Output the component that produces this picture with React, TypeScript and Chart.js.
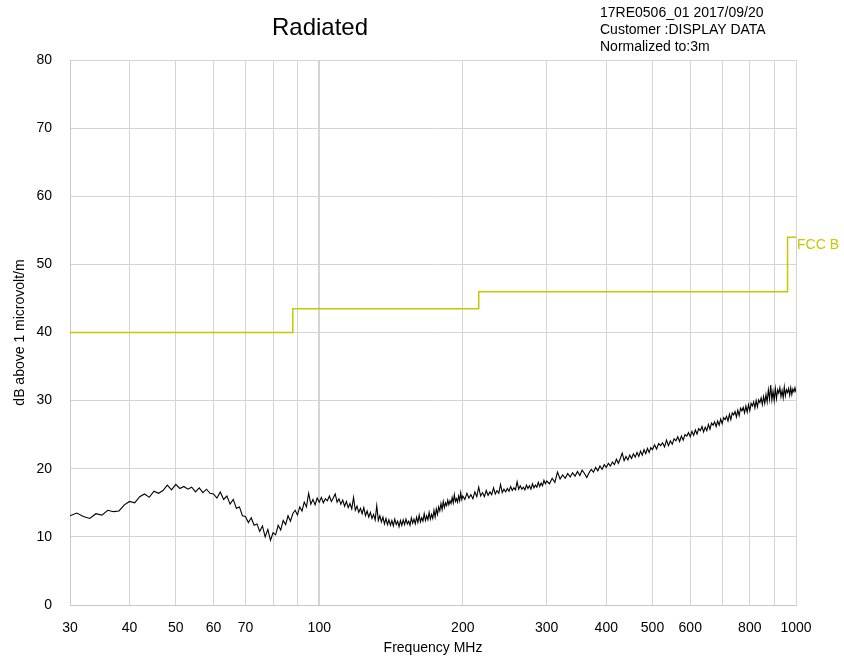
import React, { useEffect, useRef } from 'react';
import { Chart, registerables } from 'chart.js';

Chart.register(...registerables);

// Measured emission trace, split by sweep band (frequency in MHz, level in dBµV/m)
const freqsA = [
  30, 31, 32, 33, 34, 35, 36, 37, 38, 39,
  40, 41, 42, 43, 44, 45, 46, 47, 48, 49,
  50, 51, 52, 53, 54, 55, 56, 57, 58, 59,
  60, 61, 62, 63, 64, 65, 66, 67, 68, 69,
  70, 71, 72, 73, 74, 75, 76, 77, 78, 79,
  80, 81, 82, 83, 84, 85, 86, 87, 88, 89,
  90, 91, 92, 93, 94, 95, 96, 97, 98, 99,
];
const levelsA = [
  13.1, 13.5, 13.0, 12.7, 13.4, 13.2, 13.9, 13.7, 13.8, 14.7,
  15.2, 15.0, 15.9, 16.3, 15.8, 16.7, 16.4, 16.8, 17.6, 16.9,
  17.7, 17.1, 17.4, 17.0, 17.3, 16.6, 17.2, 16.5, 17.0, 16.4,
  16.3, 15.7, 16.6, 15.5, 16.0, 14.8, 15.5, 14.2, 14.4, 13.1,
  13.0, 12.1, 12.8, 11.7, 11.9, 10.8, 11.6, 10.0, 11.1, 9.5,
  10.6, 10.3, 11.7, 11.0, 12.4, 11.8, 13.1, 12.3, 13.4, 13.9,
  13.2, 14.4, 13.8, 15.1, 14.4, 16.4, 14.8, 15.5, 14.7, 15.7,
];

const freqsB = [
  100, 101, 102, 103, 104, 105, 106, 107, 108, 109,
  110, 111, 112, 113, 114, 115, 116, 117, 118, 119,
  120, 121, 122, 123, 124, 125, 126, 127, 128, 129,
  130, 131, 132, 133, 134, 135, 136, 137, 138, 139,
  140, 141, 142, 143, 144, 145, 146, 147, 148, 149,
  150, 151, 152, 153, 154, 155, 156, 157, 158, 159,
  160, 161, 162, 163, 164, 165, 166, 167, 168, 169,
  170, 171, 172, 173, 174, 175, 176, 177, 178, 179,
  180, 181, 182, 183, 184, 185, 186, 187, 188, 189,
  190, 191, 192, 193, 194, 195, 196, 197, 198, 199,
];
const levelsB = [
  15.1, 15.8, 15.0, 15.6, 15.3, 16.0, 15.2, 15.7, 16.3, 15.1,
  15.6, 14.8, 15.4, 14.5, 15.2, 14.3, 14.9, 14.1, 15.8, 13.9,
  14.5, 13.6, 14.2, 13.4, 14.3, 13.1, 13.8, 12.9, 13.6, 12.7,
  13.3, 12.5, 14.6, 12.4, 13.1, 12.2, 12.9, 11.9, 12.7, 11.8,
  12.5, 11.7, 12.4, 11.6, 12.6, 11.8, 12.3, 11.5, 12.4, 11.7,
  12.5, 11.8, 12.6, 11.9, 12.3, 11.7, 12.8, 12.0, 12.6, 11.9,
  12.9, 12.1, 13.2, 12.2, 12.8, 12.3, 13.4, 12.4, 13.1, 12.5,
  13.6, 12.6, 13.3, 12.7, 13.9, 12.9, 14.1, 13.3, 14.4, 13.8,
  14.9, 14.0, 15.2, 14.3, 15.0, 14.6, 15.4, 14.7, 15.3, 14.9,
  15.8, 15.0, 16.2, 15.2, 15.6, 15.1, 16.0, 15.3, 16.5, 15.5,
];

const freqsC = [
  200, 202, 204, 206, 208, 210, 212, 214, 216, 218,
  220, 222, 224, 226, 228, 230, 232, 234, 236, 238,
  240, 242, 244, 246, 248, 250, 252, 254, 256, 258,
  260, 262, 264, 266, 268, 270, 272, 274, 276, 278,
  280, 282, 284, 286, 288, 290, 292, 294, 296, 298,
];
const levelsC = [
  16.0, 15.5, 16.4, 15.7, 16.2, 15.6, 16.6, 15.9, 17.3, 16.0,
  16.5, 15.9, 16.8, 16.1, 16.6, 16.2, 17.2, 16.3, 16.8, 16.4,
  17.7, 16.5, 17.0, 16.6, 17.1, 16.7, 17.4, 16.8, 17.2, 16.9,
  18.1, 17.0, 17.5, 17.0, 17.3, 16.9, 17.6, 17.1, 17.5, 17.0,
  17.8, 17.2, 17.6, 17.3, 18.0, 17.4, 17.9, 17.5, 18.3, 17.8,
];

const freqsD = [
  300, 304, 308, 312, 316, 320, 324, 328, 332, 336,
  340, 344, 348, 352, 356, 360, 364, 368, 372, 376,
  380, 384, 388, 392, 396, 400, 404, 408, 412, 416,
  420, 424, 428, 432, 436, 440, 444, 448, 452, 456,
  460, 464, 468, 472, 476, 480, 484, 488, 492, 496,
];
const levelsD = [
  18.2, 17.8, 18.6, 18.0, 19.5, 18.5, 19.1, 18.6, 19.3, 18.8,
  19.4, 18.9, 19.6, 19.0, 19.8, 19.3, 18.7, 19.4, 19.9, 19.5,
  20.2, 19.7, 20.4, 19.9, 20.6, 20.2, 20.8, 20.4, 21.0, 20.6,
  21.4, 20.8, 21.5, 22.3, 21.2, 21.8, 21.3, 22.0, 21.5, 22.2,
  21.7, 22.4, 21.8, 22.6, 22.0, 22.8, 22.2, 23.0, 22.4, 23.1,
];

const freqsE = [
  500, 505, 510, 515, 520, 525, 530, 535, 540, 545,
  550, 555, 560, 565, 570, 575, 580, 585, 590, 595,
  600, 605, 610, 615, 620, 625, 630, 635, 640, 645,
  650, 655, 660, 665, 670, 675, 680, 685, 690, 695,
  700, 705, 710, 715, 720, 725, 730, 735, 740, 745,
  750, 755, 760, 765, 770, 775, 780, 785, 790, 795,
  800, 805, 810, 815, 820, 825, 830, 835, 840, 845,
  850, 855, 860, 865, 870, 875, 880, 885, 890, 895,
  900, 905, 910, 915, 920, 925, 930, 935, 940, 945,
  950, 955, 960, 965, 970, 975, 980, 985, 990, 995,
  1000,
];
const levelsE = [
  22.8, 23.5, 22.9, 23.7, 23.4, 23.8, 23.2, 24.2, 23.4, 24.1,
  23.6, 24.4, 24.1, 24.7, 24.0, 24.8, 24.2, 25.0, 24.8, 25.3,
  24.7, 25.5, 24.9, 25.7, 25.1, 25.9, 25.6, 26.2, 25.4, 26.1,
  25.6, 26.5, 25.8, 26.7, 26.4, 26.9, 26.2, 27.0, 26.4, 27.3,
  26.6, 27.5, 27.2, 27.7, 27.0, 28.0, 27.2, 28.2, 27.9, 28.4,
  27.6, 28.6, 27.8, 28.9, 28.5, 29.0, 28.2, 29.2, 28.3, 29.4,
  28.5, 29.6, 29.2, 29.8, 28.9, 30.0, 29.1, 30.1, 29.7, 30.4,
  29.4, 30.6, 29.6, 30.9, 29.8, 31.6, 30.2, 32.3, 30.1, 31.4,
  30.0, 31.8, 30.3, 31.6, 31.1, 31.9, 30.6, 31.5, 30.4, 32.0,
  30.7, 31.6, 31.2, 31.8, 30.8, 31.9, 30.9, 31.7, 31.3, 31.9,
  31.2,
];

const freqs = [...freqsA, ...freqsB, ...freqsC, ...freqsD, ...freqsE];
const levels = [...levelsA, ...levelsB, ...levelsC, ...levelsD, ...levelsE];

// FCC class B limit (normalized to 3 m)
const limitFreqs = [30, 88, 88, 216, 216, 960, 960, 1000];
const limitLevels = [40, 40, 43.5, 43.5, 46, 46, 54, 54];

const xTickValues = [30, 40, 50, 60, 70, 80, 90, 100, 200, 300, 400, 500, 600, 700, 800, 900, 1000];
const xTickLabels = ['30', '40', '50', '60', '70', '', '', '100', '200', '300', '400', '500', '600', '', '800', '', '1000'];
const yMin = 0;
const yMax = 80;
const yStep = 10;

const titleText = 'Radiated';
const infoLines = ['17RE0506_01 2017/09/20', 'Customer :DISPLAY DATA', 'Normalized to:3m'];
const xAxisTitle = 'Frequency MHz';
const yAxisTitle = 'dB above 1 microvolt/m';
const limitLabel = 'FCC B';

const FONT = '"Liberation Sans", Arial, sans-serif';
const LIMIT_COLOR = '#c8c800';
const GRID_COLOR = '#d4d4d4';

const textPlugin = {
  id: 'texts',
  afterDraw(chart: any) {
    const ctx = chart.ctx as CanvasRenderingContext2D;
    const area = chart.chartArea;
    ctx.save();
    ctx.fillStyle = '#000';
    ctx.textBaseline = 'middle';
    ctx.textAlign = 'center';
    ctx.font = `24px ${FONT}`;
    ctx.fillText(titleText, 320, 28);

    ctx.font = `14px ${FONT}`;
    ctx.textAlign = 'left';
    infoLines.forEach((l, i) => ctx.fillText(l, 600, 13 + i * 17));

    ctx.textAlign = 'center';
    ctx.fillText(xAxisTitle, (area.left + area.right) / 2, 648);

    ctx.save();
    ctx.translate(20, (area.top + area.bottom) / 2);
    ctx.rotate(-Math.PI / 2);
    ctx.fillText(yAxisTitle, 0, 0);
    ctx.restore();

    const xs = chart.scales.x;
    const ys = chart.scales.y;
    ctx.fillStyle = LIMIT_COLOR;
    ctx.textAlign = 'left';
    ctx.fillText(limitLabel, xs.getPixelForValue(1000) + 1, ys.getPixelForValue(limitLevels[limitLevels.length - 1]) + 8);
    ctx.restore();
  },
};

export default function App() {
  const ref = useRef<HTMLCanvasElement | null>(null);

  useEffect(() => {
    if (!ref.current) return;
    const chart = new Chart(ref.current, {
      type: 'line',
      data: {
        datasets: [
          {
            label: 'Measured',
            data: freqs.map((f, i) => ({ x: f, y: levels[i] })),
            borderColor: '#000',
            borderWidth: 1.1,
            pointRadius: 0,
            tension: 0,
          },
          {
            label: limitLabel,
            data: limitFreqs.map((f, i) => ({ x: f, y: limitLevels[i] })),
            borderColor: LIMIT_COLOR,
            borderWidth: 1.5,
            pointRadius: 0,
            tension: 0,
          },
        ],
      },
      options: {
        animation: false,
        responsive: true,
        maintainAspectRatio: false,
        layout: { padding: { top: 60, right: 48, left: 0, bottom: 0 } },
        plugins: { legend: { display: false }, tooltip: { enabled: false }, title: { display: false } },
        scales: {
          x: {
            type: 'logarithmic',
            min: 30,
            max: 1000,
            afterBuildTicks: (s: any) => {
              s.ticks = xTickValues.map((v) => ({ value: v }));
            },
            afterFit: (s: any) => {
              s.height = 55;
            },
            ticks: {
              autoSkip: false,
              maxRotation: 0,
              minRotation: 0,
              padding: 15,
              color: '#000',
              font: { family: FONT, size: 14 },
              callback: (v: any) => {
                const idx = xTickValues.indexOf(Number(v));
                return idx >= 0 ? xTickLabels[idx] : '';
              },
            },
            grid: {
              color: GRID_COLOR,
              drawTicks: false,
              lineWidth: (c: any) => (c.tick && c.tick.value === 100 ? 2 : 1),
            },
            border: { color: '#c8c8c8' },
          },
          y: {
            type: 'linear',
            min: yMin,
            max: yMax,
            afterFit: (s: any) => {
              s.width = 70;
            },
            ticks: {
              stepSize: yStep,
              padding: 18,
              color: '#000',
              font: { family: FONT, size: 14 },
            },
            grid: { color: GRID_COLOR, drawTicks: false },
            border: { color: '#c8c8c8' },
          },
        },
      },
      plugins: [textPlugin],
    });
    return () => chart.destroy();
  }, []);

  return (
    <div style={{ position: 'absolute', left: 0, top: 0, width: 844, height: 660, background: '#fff' }}>
      <canvas ref={ref} />
    </div>
  );
}
